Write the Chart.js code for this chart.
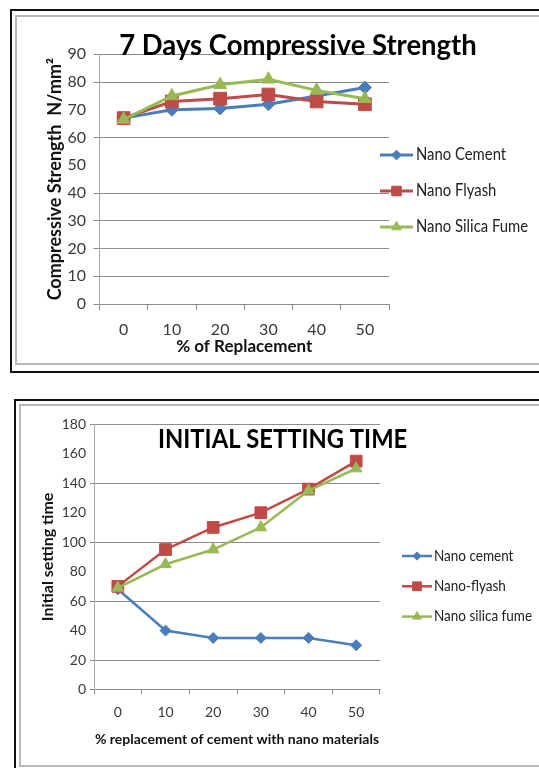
<!DOCTYPE html>
<html>
<head>
<meta charset="utf-8">
<script src="https://cdn.jsdelivr.net/npm/chart.js@4.4.1/dist/chart.umd.min.js"></script>
<style>
  html, body { margin: 0; padding: 0; background: #fff; width: 539px; height: 768px; overflow: hidden; position: relative; }
  .frame { position: absolute; box-sizing: border-box; }
  #frameTopOuter { left: 10px; top: 9px; width: 640px; height: 364px; border: 2px solid #111; }
  #frameTopInner { left: 15px; top: 15px; width: 640px; height: 350px; border: 2px solid #b8b8b8; }
  #frameBottomOuter { left: 14px; top: 399px; width: 640px; height: 420px; border: 2px solid #111; }
  #frameBottomInner { left: 19px; top: 404px; width: 640px; height: 363px; border: 2px solid #b8b8b8; }
  canvas { position: absolute; left: 0; }
  #strengthChart { top: 0; }
  #settingChart { top: 385px; }
</style>
</head>
<body>
<div class="frame" id="frameTopOuter"></div>
<div class="frame" id="frameTopInner"></div>
<div class="frame" id="frameBottomOuter"></div>
<div class="frame" id="frameBottomInner"></div>
<canvas id="strengthChart" width="539" height="380" style="width:539px;height:380px"></canvas>
<canvas id="settingChart" width="539" height="383" style="width:539px;height:383px"></canvas>
<script>
// % replacement categories shared by both charts
const replacementLabels = ['0', '10', '20', '30', '40', '50'];

// 7 days compressive strength, N/mm²
const strengthNanoCement = [67, 70, 70.5, 72, 75, 78];
const strengthNanoFlyash = [67, 73, 74, 75.5, 73, 72];
const strengthNanoSilicaFume = [66.5, 75, 79, 81, 77, 74];
const strengthTicks = [0, 10, 20, 30, 40, 50, 60, 70, 80, 90];
const strengthGridlines = [0, 10, 20, 30, 40, 60, 80, 90];

// initial setting time
const settingNanoCement = [68, 40, 35, 35, 35, 30];
const settingNanoFlyash = [70, 95, 110, 120, 136, 155];
const settingNanoSilicaFume = [69, 85, 95, 110, 135, 150];
const settingTicks = [0, 20, 40, 60, 80, 100, 120, 140, 160, 180];
const settingGridlines = [0, 20, 60, 100, 140, 180];

const BLUE = '#4a7ebb';
const RED = '#be4b48';
const GREEN = '#98b954';

function series(label, data, color, style, radius, width, order) {
  return {
    label, data, order,
    borderColor: color, backgroundColor: color,
    pointBackgroundColor: color, pointBorderColor: color,
    pointStyle: style, pointRadius: radius, pointBorderWidth: 1,
    borderWidth: width, tension: 0
  };
}

function marker(ctx, style, r, x, y) {
  if (Chart.helpers && Chart.helpers.drawPoint) {
    Chart.helpers.drawPoint(ctx, { pointStyle: style, radius: r, rotation: 0, borderWidth: 1 }, x, y);
    return;
  }
  ctx.beginPath();
  if (style === 'rect') {
    const s = r * Math.SQRT1_2;
    ctx.rect(x - s, y - s, 2 * s, 2 * s);
  } else if (style === 'rectRot') {
    ctx.moveTo(x, y - r); ctx.lineTo(x + r, y); ctx.lineTo(x, y + r); ctx.lineTo(x - r, y); ctx.closePath();
  } else {
    ctx.moveTo(x, y - r);
    ctx.lineTo(x + r * Math.sin(Math.PI * 2 / 3), y - r * Math.cos(Math.PI * 2 / 3));
    ctx.lineTo(x - r * Math.sin(Math.PI * 2 / 3), y - r * Math.cos(Math.PI * 2 / 3));
    ctx.closePath();
  }
  ctx.fill(); ctx.stroke();
}

// chart heading drawn over the plot, optionally narrowed horizontally
const headingPlugin = {
  id: 'heading',
  afterDraw(chart, args, o) {
    const ctx = chart.ctx;
    ctx.save();
    ctx.font = o.fontSpec;
    ctx.fillStyle = o.textColor;
    ctx.textAlign = 'center';
    ctx.textBaseline = 'alphabetic';
    ctx.translate(o.x, o.y);
    ctx.scale(o.squeeze, 1);
    ctx.fillText(o.text, 0, 0);
    ctx.restore();
  }
};

// line-and-marker key to the right of the plot
const seriesKeyPlugin = {
  id: 'seriesKey',
  afterDraw(chart, args, o) {
    const ctx = chart.ctx;
    ctx.save();
    ctx.font = o.fontSpec;
    ctx.textAlign = 'left';
    ctx.textBaseline = 'middle';
    chart.data.datasets.forEach((ds, i) => {
      const y = o.top + i * o.step;
      ctx.lineWidth = o.lineWidth;
      ctx.strokeStyle = ds.borderColor;
      ctx.beginPath();
      ctx.moveTo(o.lineStart, y);
      ctx.lineTo(o.lineEnd, y);
      ctx.stroke();
      ctx.fillStyle = ds.pointBackgroundColor;
      ctx.strokeStyle = ds.pointBorderColor;
      ctx.lineWidth = 1;
      marker(ctx, ds.pointStyle, ds.pointRadius * o.markerScale, (o.lineStart + o.lineEnd) / 2, y);
      ctx.fillStyle = o.textColor;
      ctx.save();
      ctx.translate(o.textStart, y);
      ctx.scale(o.squeeze, 1);
      ctx.fillText(ds.label, 0, 0);
      ctx.restore();
    });
    ctx.restore();
  }
};

function lineChart(id, spec) {
  return new Chart(document.getElementById(id), {
    type: 'line',
    data: { labels: replacementLabels, datasets: spec.datasets },
    plugins: [headingPlugin, seriesKeyPlugin],
    options: {
      responsive: false,
      animation: false,
      devicePixelRatio: 1,
      layout: { padding: spec.padding },
      plugins: {
        legend: { display: false },
        tooltip: { enabled: false },
        heading: spec.heading,
        seriesKey: spec.key
      },
      scales: {
        x: {
          type: 'category',
          offset: true,
          grid: { offset: true, drawOnChartArea: false, drawTicks: true, tickLength: spec.xTickLength, color: '#8c8c8c' },
          border: { display: true, color: '#8c8c8c', width: 1 },
          ticks: { padding: spec.xTickPadding, color: '#3a3a3a', font: { family: 'Lato', size: spec.tickSize }, maxRotation: 0, autoSkip: false },
          title: { display: true, text: spec.xTitle, color: '#111', font: { family: 'Lato', size: spec.xTitleSize, weight: 'bold' }, padding: 0 },
          afterFit: s => { s.height = spec.xHeight; }
        },
        y: {
          min: spec.yMin,
          max: spec.yMax,
          afterBuildTicks: s => { s.ticks = spec.yTicks.map(v => ({ value: v })); },
          grid: {
            color: c => (c.tick && spec.yGrid.includes(c.tick.value)) ? '#8c8c8c' : 'rgba(0,0,0,0)',
            lineWidth: 1,
            tickLength: spec.yTickLength
          },
          border: { display: true, color: '#a8a8a8', width: 1 },
          ticks: { padding: spec.yTickPadding, color: '#3a3a3a', font: { family: 'Lato', size: spec.tickSize } },
          title: { display: true, text: spec.yTitle, color: '#111', font: { family: 'Lato', size: spec.yTitleSize, weight: 'bold' }, padding: 0 },
          afterFit: s => { s.width = spec.yWidth; }
        }
      }
    }
  });
}

lineChart('strengthChart', {
  datasets: [
    series('Nano Cement', strengthNanoCement, BLUE, 'rectRot', 6.5, 3, 2),
    series('Nano Flyash', strengthNanoFlyash, RED, 'rect', 9, 3, 1),
    series('Nano Silica Fume', strengthNanoSilicaFume, GREEN, 'triangle', 7.5, 3, 0)
  ],
  padding: { left: 44, right: 150, top: 54.3, bottom: 22.8 },
  yMin: 0, yMax: 90, yTicks: strengthTicks, yGrid: strengthGridlines,
  yWidth: 55.5, yTickLength: 6, yTickPadding: 7.5,
  xHeight: 53.2, xTickLength: 6, xTickPadding: 10,
  tickSize: 16,
  xTitle: '% of Replacement', xTitleSize: 17,
  yTitle: 'Compressive Strength  N/mm²', yTitleSize: 18,
  heading: { text: '7 Days Compressive Strength', fontSpec: 'bold 28px Lato', textColor: '#000', x: 298, y: 55, squeeze: 0.98 },
  key: { fontSpec: '16.5px Lato', textColor: '#222', top: 155, step: 36, lineStart: 380, lineEnd: 413, textStart: 416, lineWidth: 3, markerScale: 0.75, squeeze: 0.9 }
});

lineChart('settingChart', {
  datasets: [
    series('Nano cement', settingNanoCement, BLUE, 'rectRot', 5.5, 2.5, 2),
    series('Nano-flyash', settingNanoFlyash, RED, 'rect', 8.3, 2.5, 1),
    series('Nano silica fume', settingNanoSilicaFume, GREEN, 'triangle', 6.7, 2.5, 0)
  ],
  padding: { left: 38.4, right: 159, top: 39.3, bottom: 20.6 },
  yMin: 0, yMax: 180, yTicks: settingTicks, yGrid: settingGridlines,
  yWidth: 55.6, yTickLength: 4, yTickPadding: 4,
  xHeight: 57.9, xTickLength: 5, xTickPadding: 10,
  tickSize: 14,
  xTitle: '% replacement of cement with nano materials', xTitleSize: 14,
  yTitle: 'Initial setting time', yTitleSize: 16,
  heading: { text: 'INITIAL SETTING TIME', fontSpec: 'bold 27px Lato', textColor: '#000', x: 282.6, y: 63.3, squeeze: 0.88 },
  key: { fontSpec: '15px Lato', textColor: '#222', top: 171, step: 30.3, lineStart: 402, lineEnd: 432, textStart: 434, lineWidth: 2.5, markerScale: 0.75, squeeze: 0.9 }
});
</script>
</body>
</html>
